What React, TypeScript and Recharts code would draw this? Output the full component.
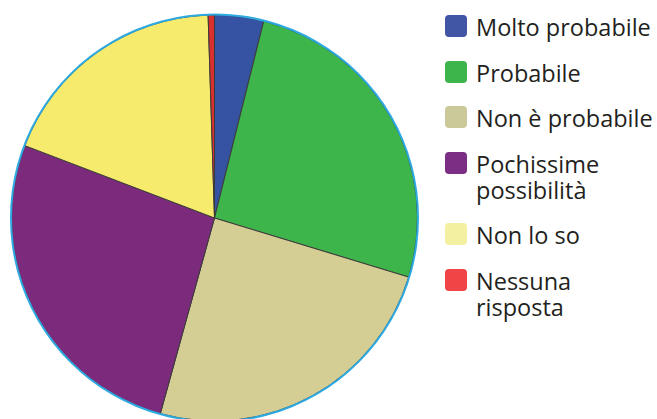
import React from "react";
import { PieChart, Pie, Cell, Legend } from "recharts";

const categories = [
  "Molto probabile",
  "Probabile",
  "Non è probabile",
  "Pochissime possibilità",
  "Non lo so",
  "Nessuna risposta",
];
const values = [3.9, 25.8, 24.6, 26.5, 18.7, 0.5];
const legendLines = [
  ["Molto probabile"],
  ["Probabile"],
  ["Non è probabile"],
  ["Pochissime", "possibilità"],
  ["Non lo so"],
  ["Nessuna", "risposta"],
];

const sliceColors = ["#3553a2", "#3db54a", "#d4cd94", "#7c2a7b", "#f7eb6d", "#d8302f"];
const legendColors = ["#4157a6", "#3db54a", "#cbc89a", "#7b2f84", "#f4f0a2", "#ef4547"];

const data = categories.map((name, i) => ({ name, value: values[i] }));
const ring = [{ name: "bordo", value: 1 }];

function LegendBox() {
  return (
    <div style={{ fontFamily: "'Open Sans', sans-serif", color: "#231f20" }}>
      {categories.map((name, i) => (
        <div key={name} style={{ display: "flex", alignItems: "flex-start", marginBottom: 20.5 }}>
          <div
            style={{
              width: 22,
              height: 22,
              borderRadius: 4,
              background: legendColors[i],
              marginRight: 9,
              flex: "none",
            }}
          />
          <div style={{ fontSize: 23.5, lineHeight: "26px", marginTop: -1, whiteSpace: "nowrap" }}>
            {legendLines[i].map((line) => (
              <div key={line}>{line}</div>
            ))}
          </div>
        </div>
      ))}
    </div>
  );
}

export default function App() {
  return (
    <div style={{ position: "absolute", left: 0, top: 0, background: "#fff" }}>
      <PieChart width={657} height={419} margin={{ top: 0, right: 0, bottom: 0, left: 0 }}>
        <Pie
          data={data}
          dataKey="value"
          nameKey="name"
          cx={214.5}
          cy={218}
          outerRadius={203}
          startAngle={90}
          endAngle={-270}
          stroke="#3a3a3a"
          strokeWidth={1}
          isAnimationActive={false}
        >
          {data.map((d, i) => (
            <Cell key={d.name} fill={sliceColors[i]} />
          ))}
        </Pie>
        <Pie
          data={ring}
          dataKey="value"
          cx={214.5}
          cy={218}
          innerRadius={202.5}
          outerRadius={204.5}
          startAngle={90}
          endAngle={-270}
          fill="#2eaae1"
          stroke="none"
          legendType="none"
          isAnimationActive={false}
        />
        <Legend
          layout="vertical"
          verticalAlign="top"
          align="right"
          content={() => <LegendBox />}
          wrapperStyle={{ left: 445, top: 15, width: 212 }}
        />
      </PieChart>
    </div>
  );
}
